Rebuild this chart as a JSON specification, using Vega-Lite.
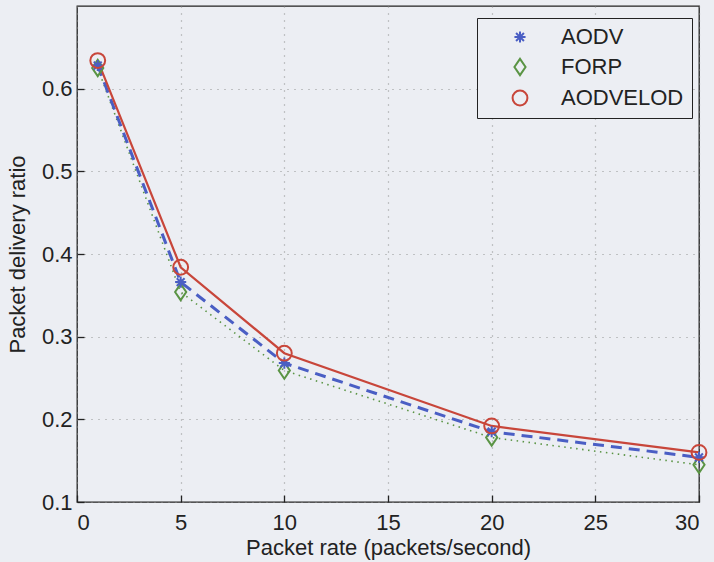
{
  "$schema": "https://vega.github.io/schema/vega-lite/v6.json",
  "width": 622,
  "height": 496,
  "autosize": "none",
  "padding": {"left": 77, "top": 6, "right": 15, "bottom": 60},
  "background": "#eceef3",
  "config": {
    "font": "Liberation Sans",
    "view": {"stroke": "#222222", "strokeWidth": 1.3, "fill": "#eceef3"},
    "axis": {
      "labelFont": "Liberation Sans",
      "titleFont": "Liberation Sans",
      "labelFontSize": 22,
      "titleFontSize": 22,
      "titleFontWeight": "normal",
      "labelColor": "#222222",
      "titleColor": "#222222",
      "tickColor": "#222222",
      "tickWidth": 1.3,
      "domain": false,
      "gridColor": "#8a8a8a",
      "gridDash": [1, 6],
      "gridWidth": 1.2,
      "gridOpacity": 0.9
    }
  },
  "data": {
    "values": [
      {"rate": 1, "series": "FORP", "pdr": 0.625},
      {"rate": 5, "series": "FORP", "pdr": 0.354},
      {"rate": 10, "series": "FORP", "pdr": 0.259},
      {"rate": 20, "series": "FORP", "pdr": 0.178},
      {"rate": 30, "series": "FORP", "pdr": 0.145},
      {"rate": 1, "series": "AODV", "pdr": 0.628},
      {"rate": 5, "series": "AODV", "pdr": 0.366},
      {"rate": 10, "series": "AODV", "pdr": 0.268},
      {"rate": 20, "series": "AODV", "pdr": 0.185},
      {"rate": 30, "series": "AODV", "pdr": 0.154},
      {"rate": 1, "series": "AODVELOD", "pdr": 0.634},
      {"rate": 5, "series": "AODVELOD", "pdr": 0.384},
      {"rate": 10, "series": "AODVELOD", "pdr": 0.28},
      {"rate": 20, "series": "AODVELOD", "pdr": 0.192},
      {"rate": 30, "series": "AODVELOD", "pdr": 0.16}
    ]
  },
  "encoding": {
    "x": {
      "field": "rate", "type": "quantitative",
      "scale": {"domain": [0, 30], "nice": false},
      "axis": {"orient": "bottom", "values": [0, 5, 10, 15, 20, 25, 30], "title": "Packet rate (packets/second)", "tickSize": -7, "labelPadding": 17, "titlePadding": 4, "grid": true}
    },
    "y": {
      "field": "pdr", "type": "quantitative",
      "scale": {"domain": [0.1, 0.7], "nice": false, "zero": false},
      "axis": {"orient": "left", "values": [0.1, 0.2, 0.3, 0.4, 0.5, 0.6], "format": ".1f", "title": "Packet delivery ratio", "tickSize": -7, "labelPadding": 12, "titlePadding": 12, "grid": true}
    }
  },
  "layer": [
    {
      "transform": [{"filter": "datum.series === 'FORP'"}],
      "mark": {"type": "line", "clip": false, "strokeDash": [1.5, 4.5], "strokeWidth": 1.6},
      "encoding": {
        "color": {
          "field": "series", "type": "nominal",
          "scale": {"domain": ["AODV", "FORP", "AODVELOD"], "range": ["#4a5ec4", "#5a9444", "#c8463a"]}
        },
        "order": {"field": "rate", "type": "quantitative"}
      }
    },
    {
      "transform": [{"filter": "datum.series === 'AODV'"}],
      "mark": {"type": "line", "clip": false, "strokeDash": [11, 7], "strokeWidth": 3},
      "encoding": {
        "color": {"field": "series", "type": "nominal"},
        "order": {"field": "rate", "type": "quantitative"}
      }
    },
    {
      "transform": [{"filter": "datum.series === 'AODVELOD'"}],
      "mark": {"type": "line", "clip": false, "strokeWidth": 2.2},
      "encoding": {
        "color": {"field": "series", "type": "nominal"},
        "order": {"field": "rate", "type": "quantitative"}
      }
    },
    {
      "mark": {"type": "point", "filled": false, "size": 220, "strokeWidth": 2, "opacity": 1, "clip": false},
      "encoding": {
        "color": {
          "field": "series", "type": "nominal",
          "legend": {
            "orient": "none", "legendX": 400, "legendY": 12, "title": null,
            "strokeColor": "#222222", "fillColor": "#eceef3", "padding": 8,
            "labelFont": "Liberation Sans", "labelFontSize": 22, "labelColor": "#222222",
            "symbolSize": 220, "symbolStrokeWidth": 2, "symbolOpacity": 1, "rowPadding": 6, "labelOffset": 30, "symbolOffset": 24
          }
        },
        "shape": {
          "field": "series", "type": "nominal",
          "scale": {"domain": ["AODV", "FORP", "AODVELOD"], "range": ["M0,-0.75L0,0.75M-0.75,0L0.75,0M-0.53,-0.53L0.53,0.53M-0.53,0.53L0.53,-0.53", "M0,-1.1L0.75,0L0,1.1L-0.75,0Z", "circle"]},
          "legend": null
        }
      }
    }
  ]
}
